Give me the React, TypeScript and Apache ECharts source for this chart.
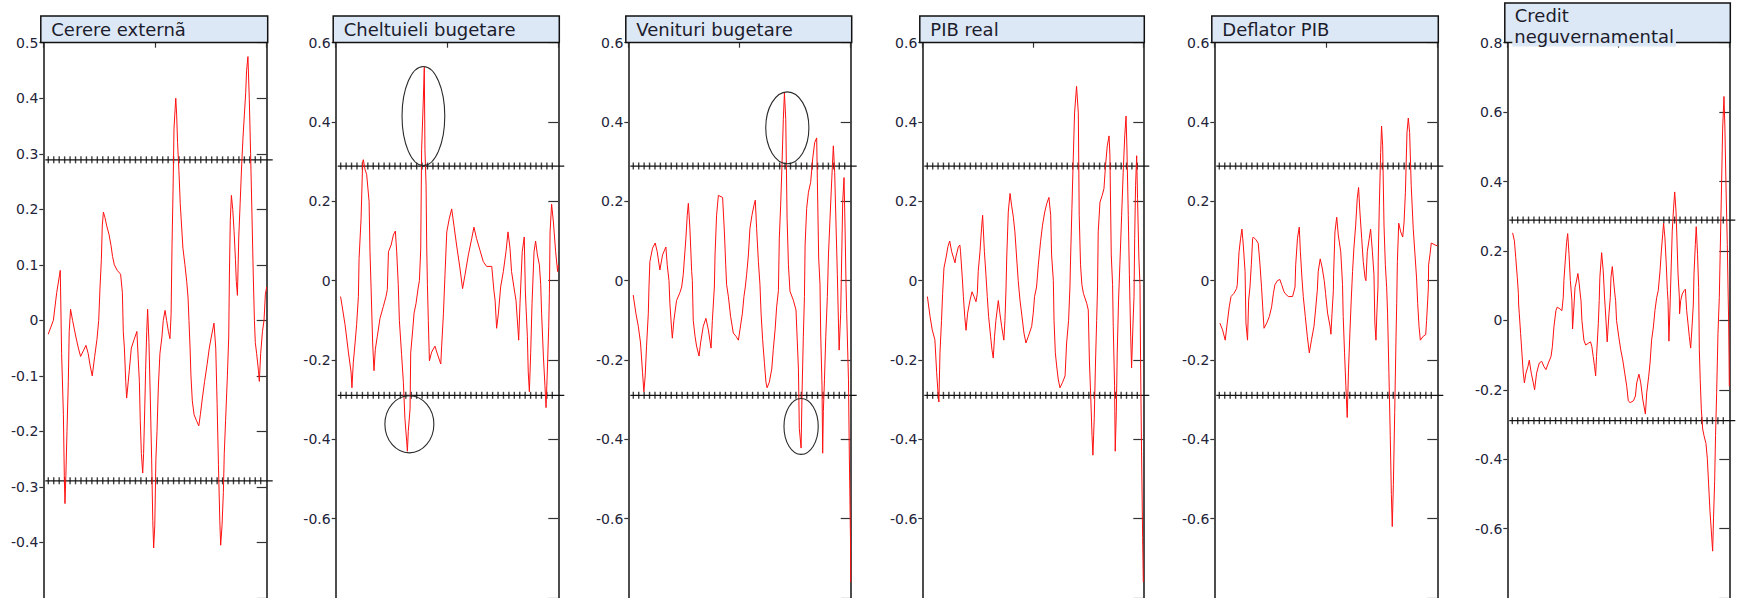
import React, { useEffect, useRef } from 'react';
import * as echarts from 'echarts';

// ---------- data (x = position along the sample, 0..100; y = value) ----------
const cerereExterna: [number, number][] = [
  [2.2,-0.025],[4.5,0],[6.0,0.05],[7.2,0.08],[7.6,0.09],[8.2,-0.06],[9.0,-0.17],[9.4,-0.28],[9.7,-0.33],[10.1,-0.28],
  [10.6,-0.2],[11.2,-0.11],[11.6,-0.02],[12.2,0.02],[13.1,0],[14.6,-0.03],[15.7,-0.05],[16.7,-0.065],[17.9,-0.055],[19.1,-0.045],
  [20.1,-0.06],[20.9,-0.08],[21.9,-0.1],[23.0,-0.065],[24.0,-0.035],[24.8,0],[25.4,0.06],[26.0,0.11],[26.4,0.17],[26.9,0.195],
  [27.6,0.185],[28.4,0.17],[29.4,0.155],[30.3,0.135],[31.0,0.115],[31.8,0.1],[33.1,0.09],[34.6,0.083],[35.4,0.05],[35.8,-0.02],
  [36.3,-0.05],[36.9,-0.11],[37.3,-0.14],[37.8,-0.12],[38.5,-0.09],[39.4,-0.05],[40.6,-0.035],[41.9,-0.02],[42.5,-0.07],[43.0,-0.11],
  [43.4,-0.18],[43.9,-0.24],[44.5,-0.275],[44.9,-0.24],[45.4,-0.16],[45.8,-0.09],[46.3,-0.02],[46.7,0.02],[47.3,-0.04],[47.9,-0.14],
  [48.5,-0.25],[49.0,-0.36],[49.4,-0.41],[49.9,-0.37],[50.4,-0.25],[50.9,-0.2],[51.5,-0.12],[52.2,-0.06],[53.1,-0.03],[53.7,0],
  [54.5,0.018],[55.2,0],[56.0,-0.02],[56.7,-0.033],[57.2,0.01],[57.6,0.13],[58.1,0.24],[58.5,0.345],[59.0,0.38],[59.3,0.4],
  [59.7,0.37],[60.1,0.32],[60.7,0.27],[61.3,0.21],[61.9,0.17],[62.5,0.13],[63.4,0.1],[64.2,0.07],[64.8,0.04],[65.2,0],
  [65.7,-0.05],[66.1,-0.1],[66.7,-0.145],[67.5,-0.17],[68.5,-0.18],[69.6,-0.19],[70.3,-0.17],[71.2,-0.14],[72.2,-0.11],[73.3,-0.08],
  [74.3,-0.05],[75.2,-0.03],[76.4,-0.005],[77.2,-0.05],[77.8,-0.15],[78.4,-0.26],[79.0,-0.36],[79.4,-0.405],[80.0,-0.37],[80.6,-0.31],
  [81.0,-0.24],[81.6,-0.18],[82.4,-0.1],[83.0,-0.03],[83.3,0.08],[83.7,0.18],[84.2,0.225],[84.8,0.2],[85.4,0.16],[86.0,0.11],
  [86.4,0.07],[86.9,0.045],[87.5,0.15],[88.1,0.21],[88.8,0.28],[89.4,0.33],[90.0,0.37],[90.6,0.41],[91.0,0.45],[91.6,0.475],
  [92.2,0.4],[92.8,0.3],[93.4,0.19],[94.0,0.08],[94.5,0],[94.9,-0.04],[95.5,-0.06],[96.3,-0.09],[96.7,-0.11],[97.3,-0.06],
  [98.1,-0.02],[98.8,0],[99.4,0.047],[100,0.06],
];

const cheltuieliBugetare: [number, number][] = [
  [2.2,-0.04],[4.2,-0.111],[5.7,-0.18],[6.9,-0.23],[7.3,-0.27],[7.9,-0.207],[8.7,-0.157],[9.4,-0.111],[10.2,-0.04],[10.5,0.056],
  [11.4,0.156],[12.1,0.297],[12.4,0.305],[13.2,0.28],[13.9,0.268],[15.0,0.2],[15.4,0.073],[15.9,-0.018],[16.6,-0.157],[17.2,-0.227],
  [17.8,-0.173],[18.7,-0.14],[19.9,-0.095],[21.4,-0.065],[22.6,-0.04],[23.2,-0.022],[23.7,0.073],[24.9,0.09],[25.9,0.115],[26.8,0.125],
  [27.4,0.073],[28.1,-0.01],[28.6,-0.1],[29.6,-0.186],[30.4,-0.256],[31.1,-0.348],[31.9,-0.406],[32.2,-0.43],[32.6,-0.38],[33.4,-0.323],
  [33.7,-0.182],[34.6,-0.124],[35.2,-0.082],[36.1,-0.057],[37.1,-0.016],[37.6,0],[38.2,0.08],[38.6,0.33],[39.4,0.463],[39.8,0.538],
  [40.1,0.33],[40.6,0.24],[40.9,0.08],[41.2,-0.01],[41.6,-0.1],[42.1,-0.202],[43.1,-0.18],[44.6,-0.165],[45.4,-0.18],[47.2,-0.21],
  [47.6,-0.165],[48.4,-0.082],[49.1,0.015],[49.9,0.123],[51.0,0.156],[52.1,0.181],[53.1,0.14],[54.3,0.09],[55.8,0.032],[57.0,-0.02],
  [58.1,0.015],[59.6,0.065],[61.1,0.106],[62.1,0.135],[63.3,0.106],[64.8,0.077],[66.3,0.048],[67.8,0.036],[70.1,0.036],[71.1,-0.026],
  [71.6,-0.049],[72.3,-0.12],[73.1,-0.082],[74.1,-0.016],[75.3,0.023],[76.5,0.073],[77.4,0.123],[78.3,0.082],[79.0,0.023],[80.1,-0.018],
  [81.0,-0.05],[81.9,-0.124],[82.2,-0.15],[82.8,-0.057],[83.8,0.073],[84.7,0.11],[85.2,-0.026],[85.5,-0.066],[86.1,-0.14],[86.5,-0.23],
  [87.0,-0.28],[87.6,-0.182],[88.2,-0.057],[89.1,0.073],[89.8,0.1],[90.6,0.065],[91.5,0.04],[92.1,-0.01],[92.5,-0.082],[93.3,-0.19],
  [94.0,-0.265],[94.5,-0.32],[95.1,-0.223],[95.7,-0.115],[96.0,-0.032],[96.3,0.123],[97.0,0.193],[97.8,0.148],[98.8,0.073],[99.7,0.023],
  [100,0.04],
];

const venituriBugetare: [number, number][] = [
  [2.2,-0.036],[3.4,-0.082],[4.5,-0.115],[5.5,-0.157],[6.4,-0.232],[7.0,-0.28],[7.6,-0.24],[8.2,-0.165],[9.0,-0.082],[9.3,-0.016],
  [9.7,0.048],[10.9,0.082],[12.1,0.095],[13.0,0.073],[14.2,0.027],[15.4,0.065],[16.9,0.085],[17.5,0.04],[18.3,0],[18.7,-0.057],
  [19.5,-0.124],[19.8,-0.145],[20.5,-0.1],[21.7,-0.05],[23.2,-0.03],[24.0,-0.016],[24.7,0.015],[25.9,0.107],[26.5,0.165],[27.0,0.195],
  [27.7,0.132],[28.5,0.023],[28.8,0],[29.2,-0.1],[30.0,-0.14],[30.7,-0.165],[31.8,-0.19],[32.5,-0.157],[33.7,-0.115],[34.9,-0.095],
  [36.0,-0.124],[37.2,-0.17],[37.8,-0.1],[38.7,-0.016],[39.0,0.065],[39.7,0.165],[40.5,0.215],[42.4,0.21],[43.2,0.123],[43.8,0.04],
  [44.2,-0.01],[45.0,-0.04],[46.0,-0.09],[47.2,-0.132],[48.4,-0.14],[49.5,-0.15],[50.2,-0.124],[51.3,-0.082],[52.0,-0.04],[52.6,-0.016],
  [53.2,0.015],[54.0,0.065],[54.7,0.132],[55.6,0.165],[56.5,0.19],[57.1,0.203],[57.7,0.132],[58.5,0.048],[59.2,-0.01],[59.7,-0.082],
  [60.4,-0.149],[61.2,-0.207],[61.9,-0.256],[62.4,-0.27],[63.4,-0.256],[64.5,-0.223],[65.2,-0.173],[66.0,-0.124],[66.7,-0.066],[67.5,-0.025],
  [67.9,0.107],[68.5,0.19],[69.1,0.29],[69.7,0.407],[70.2,0.473],[70.8,0.407],[71.4,0.157],[72.0,0.04],[72.7,-0.027],[74.2,-0.049],
  [75.4,-0.074],[76.5,-0.223],[76.9,-0.373],[77.7,-0.422],[78.1,-0.29],[78.7,-0.14],[79.2,-0.04],[79.5,0.09],[80.2,0.182],[81.0,0.223],
  [82.0,0.248],[82.9,0.307],[83.8,0.348],[84.7,0.36],[85.0,0.257],[85.6,0.057],[86.2,-0.01],[86.5,-0.132],[87.1,-0.265],[87.4,-0.435],
  [87.7,-0.33],[88.2,-0.25],[88.8,-0.14],[89.5,-0.04],[90.0,0.065],[90.7,0.157],[91.5,0.257],[92.2,0.34],[92.8,0.273],[93.4,0.14],
  [94.0,0.015],[94.5,-0.107],[94.8,-0.175],[95.5,-0.082],[96.4,0.198],[97.0,0.26],[97.5,0.123],[97.9,-0.01],[98.2,-0.082],[99.0,-0.25],
  [99.4,-0.447],[99.9,-0.65],[100,-0.76],
];

const pibReal: [number, number][] = [
  [2.3,-0.04],[3.5,-0.09],[4.5,-0.124],[5.7,-0.149],[6.5,-0.232],[7.1,-0.281],[7.5,-0.306],[8.0,-0.182],[8.7,-0.1],[9.2,-0.032],
  [9.8,0.032],[10.7,0.057],[11.6,0.086],[12.4,0.1],[13.3,0.073],[14.8,0.045],[15.2,0.06],[16.3,0.085],[17.0,0.09],[17.3,0.073],
  [18.1,0.007],[18.6,-0.04],[19.2,-0.09],[19.8,-0.125],[20.5,-0.082],[21.6,-0.049],[22.5,-0.028],[23.4,-0.04],[24.3,-0.053],[24.9,-0.032],
  [25.3,0.023],[26.1,0.073],[26.8,0.132],[27.3,0.165],[28.1,0.073],[28.8,0.015],[29.4,-0.04],[30.0,-0.09],[30.9,-0.14],[31.5,-0.173],
  [32.1,-0.195],[32.7,-0.14],[33.3,-0.1],[34.4,-0.05],[35.1,-0.082],[35.9,-0.115],[36.9,-0.15],[37.4,-0.1],[37.9,-0.016],[38.2,0.057],
  [38.9,0.173],[39.7,0.22],[40.4,0.19],[41.2,0.16],[41.9,0.123],[42.7,0.057],[43.4,0],[44.2,-0.049],[45.1,-0.09],[46.0,-0.132],
  [46.9,-0.157],[48.0,-0.14],[49.5,-0.115],[50.2,-0.082],[50.8,-0.04],[51.7,-0.016],[52.5,0.04],[53.5,0.098],[54.4,0.14],[55.4,0.173],
  [56.3,0.194],[57.3,0.21],[58.1,0.165],[58.5,0.065],[59.3,0],[59.6,-0.1],[60.2,-0.182],[60.8,-0.215],[61.5,-0.248],[62.3,-0.27],
  [63.5,-0.256],[64.6,-0.24],[65.3,-0.157],[66.2,-0.1],[66.8,-0.016],[67.1,0.057],[67.7,0.182],[68.3,0.307],[68.9,0.423],[69.8,0.49],
  [70.6,0.423],[71.0,0.165],[71.6,0.04],[72.2,-0.01],[72.9,-0.032],[74.4,-0.057],[75.1,-0.074],[75.6,-0.2],[76.2,-0.29],[76.8,-0.39],
  [77.2,-0.44],[77.8,-0.348],[78.4,-0.2],[78.9,-0.1],[79.3,-0.016],[79.6,0.123],[80.4,0.198],[81.4,0.215],[82.2,0.232],[82.9,0.29],
  [83.7,0.34],[84.5,0.365],[84.9,0.315],[85.5,0.065],[86.1,-0.01],[86.4,-0.115],[87.0,-0.265],[87.3,-0.43],[87.8,-0.33],[88.2,-0.182],
  [88.8,-0.049],[89.4,0.04],[90.2,0.165],[90.9,0.273],[91.6,0.365],[92.2,0.415],[92.6,0.332],[93.2,0.165],[93.7,0.015],[94.3,-0.14],
  [94.7,-0.22],[95.3,-0.115],[95.8,-0.04],[96.1,0.107],[96.5,0.24],[97.0,0.315],[97.4,0.207],[98.0,0.057],[98.5,-0.01],[98.8,-0.223],
  [99.2,-0.43],[99.7,-0.647],[100,-0.76],
];

const deflatorPib: [number, number][] = [
  [2.5,-0.107],[3.7,-0.124],[4.9,-0.15],[5.8,-0.107],[6.7,-0.066],[7.5,-0.04],[8.8,-0.032],[10.0,-0.02],[10.3,-0.01],[11.1,0.073],
  [11.8,0.107],[12.4,0.13],[13.0,0.09],[13.8,0.023],[14.2,-0.107],[14.9,-0.15],[15.4,-0.049],[16.0,-0.016],[16.6,0.04],[17.2,0.107],
  [17.5,0.11],[18.7,0.103],[19.7,0.094],[20.5,0.04],[21.2,-0.018],[21.7,-0.066],[22.3,-0.12],[23.5,-0.107],[24.7,-0.09],[25.7,-0.066],
  [26.5,-0.032],[27.2,-0.01],[28.3,0],[29.4,0.003],[30.2,-0.01],[31.2,-0.027],[31.7,-0.032],[33.2,-0.04],[35.1,-0.04],[36.2,-0.016],
  [36.5,0.04],[37.3,0.107],[38.1,0.135],[38.6,0.073],[39.3,0.007],[39.9,-0.04],[40.8,-0.09],[41.7,-0.14],[42.6,-0.182],[43.6,-0.149],
  [44.7,-0.115],[45.4,-0.074],[46.2,-0.024],[46.6,0.023],[47.5,0.055],[48.4,0.032],[49.3,0],[49.9,-0.032],[50.8,-0.082],[51.9,-0.115],
  [52.3,-0.135],[52.8,-0.082],[53.4,-0.024],[53.5,0.015],[54.1,0.123],[54.9,0.16],[55.6,0.115],[56.7,0.073],[57.5,-0.01],[57.8,-0.09],
  [58.4,-0.182],[59.0,-0.265],[59.6,-0.345],[60.2,-0.223],[60.8,-0.132],[61.4,-0.049],[62.0,0.023],[62.6,0.082],[63.4,0.14],[64.1,0.207],
  [64.7,0.235],[65.3,0.173],[66.1,0.107],[66.8,0.048],[67.6,0.007],[68.0,0],[68.6,0.073],[69.5,0.107],[70.1,0.13],[70.9,0.073],
  [71.6,0.015],[72.0,-0.107],[72.5,-0.15],[72.9,-0.082],[73.4,-0.016],[73.5,0.048],[74.0,0.19],[74.6,0.323],[75.0,0.39],[75.5,0.34],
  [76.1,0.14],[76.7,0.04],[77.3,-0.018],[77.7,-0.082],[78.3,-0.232],[78.9,-0.39],[79.4,-0.539],[79.8,-0.62],[80.3,-0.514],[80.9,-0.332],
  [81.5,-0.14],[81.8,-0.057],[82.1,0.048],[82.7,0.145],[83.6,0.123],[84.5,0.11],[85.1,0.148],[85.7,0.223],[86.4,0.373],[87.0,0.41],
  [87.6,0.373],[88.3,0.24],[89.2,0.132],[90.0,0.065],[90.7,0.007],[91.2,-0.057],[91.8,-0.115],[92.4,-0.15],[93.7,-0.14],[94.8,-0.136],
  [95.2,-0.1],[95.7,-0.049],[96.0,-0.016],[96.1,0.04],[96.7,0.065],[97.3,0.095],[99.0,0.09],[100,0.088],
];

const creditNeguvernamental: [number, number][] = [
  [2.4,0.252],[3.2,0.229],[3.8,0.181],[4.5,0.124],[5.0,0.077],[5.1,0.047],[5.4,0.019],[6.0,-0.038],[6.6,-0.095],[7.2,-0.152],
  [7.7,-0.18],[8.4,-0.152],[9.3,-0.133],[9.9,-0.115],[10.8,-0.152],[11.7,-0.18],[12.3,-0.2],[13.2,-0.152],[14.4,-0.123],[15.5,-0.118],
  [16.5,-0.133],[17.4,-0.142],[18.5,-0.123],[19.7,-0.104],[20.3,-0.076],[21.0,-0.019],[21.9,0.028],[22.5,0.038],[23.7,0.033],[24.6,0.028],
  [25.2,0.066],[25.5,0.115],[26.0,0.162],[26.7,0.224],[27.2,0.25],[27.8,0.19],[28.4,0.115],[29.0,0.067],[29.1,0.057],[29.4,-0.025],
  [30.0,0.038],[30.5,0.095],[30.9,0.105],[31.8,0.135],[32.4,0.105],[33.0,0.067],[33.2,0.057],[33.6,0],[34.5,-0.057],[35.3,-0.071],
  [36.5,-0.066],[37.5,-0.062],[38.1,-0.076],[38.7,-0.104],[39.3,-0.133],[39.8,-0.16],[40.2,-0.104],[41.0,-0.009],[41.4,0.057],[41.7,0.124],
  [42.5,0.195],[43.2,0.143],[43.8,0.067],[44.1,0.038],[44.7,-0.028],[45.0,-0.062],[45.8,0.019],[46.4,0.066],[46.7,0.124],[47.3,0.155],
  [48.0,0.105],[48.6,0.067],[48.8,0.057],[49.2,0],[50.2,-0.047],[51.1,-0.085],[52.0,-0.114],[52.9,-0.152],[53.8,-0.19],[54.5,-0.232],
  [55.3,-0.237],[56.8,-0.232],[57.7,-0.218],[58.3,-0.18],[59.3,-0.155],[60.1,-0.18],[61.0,-0.227],[62.2,-0.27],[62.8,-0.209],[63.7,-0.161],
  [64.3,-0.123],[65.0,-0.057],[65.8,-0.019],[66.5,0.028],[67.3,0.066],[68.0,0.086],[68.8,0.143],[69.4,0.2],[70.0,0.248],[70.4,0.28],
  [71.0,0.238],[71.6,0.162],[72.1,0.086],[72.4,0.057],[72.8,-0.06],[73.3,0.038],[73.6,0.105],[74.3,0.257],[74.9,0.323],[75.4,0.37],
  [76.0,0.314],[76.4,0.238],[76.9,0.134],[77.5,0.067],[77.6,0.019],[78.1,0.057],[78.8,0.076],[79.7,0.086],[80.2,0.09],[80.8,0.028],
  [81.4,-0.009],[82.0,-0.047],[82.6,-0.08],[83.2,-0.019],[83.8,0.047],[84.1,0.134],[84.7,0.219],[85.1,0.27],[85.7,0.19],[86.2,0.095],
  [86.5,-0.085],[86.9,-0.171],[87.4,-0.256],[88.0,-0.313],[88.6,-0.332],[89.5,-0.355],[90.1,-0.398],[90.7,-0.474],[91.3,-0.55],[91.9,-0.607],
  [92.5,-0.665],[92.9,-0.569],[93.4,-0.464],[93.8,-0.332],[94.3,-0.209],[94.9,-0.038],[95.5,0.066],[95.8,0.162],[96.4,0.352],[97.0,0.551],
  [97.6,0.645],[98.0,0.56],[98.5,0.39],[99.1,0.219],[99.5,0.067],[99.7,0],[99.9,-0.109],[100,-0.19],
];

const panelSeries = [cerereExterna, cheltuieliBugetare, venituriBugetare, pibReal, deflatorPib, creditNeguvernamental];
const panelTitles: string[][] = [
  ['Cerere externã'], ['Cheltuieli bugetare'], ['Venituri bugetare'], ['PIB real'], ['Deflator PIB'], ['Credit', 'neguvernamental'],
];
const yMaxes = [0.5, 0.6, 0.6, 0.6, 0.6, 0.8];
const yMins = [-0.5, -0.8, -0.8, -0.8, -0.8, -0.8];
const ySteps = [0.1, 0.2, 0.2, 0.2, 0.2, 0.2];

// confidence band (±) drawn as a hatched line
const bandLevel = 0.289;
const hatchCount = 40;

// ellipse annotations: panel, centre x, top value, bottom value, half width (x units)
const ellipseNotes = [
  { panel: 1, t: 39.4, top: 0.54, bottom: 0.29, half: 9.6 },
  { panel: 1, t: 33.1, top: -0.29, bottom: -0.434, half: 11.0 },
  { panel: 2, t: 71.5, top: 0.476, bottom: 0.295, half: 9.7 },
  { panel: 2, t: 77.7, top: -0.297, bottom: -0.438, half: 7.7 },
];

// ---------- layout ----------
const plotLefts = [43.3, 335.7, 628.3, 922.3, 1214.3, 1507.3];
const plotRights = [266.7, 558.3, 850.7, 1143.3, 1437.3, 1729.3];
const PLOT_TOP = 42.7;
const PLOT_H = 562;

const BOX_FILL = '#dde8f6';
const TICK_FONT = 'DejaVu Sans';

function fmt(v: number) {
  const r = Math.round(v * 10) / 10;
  return r === 0 ? '0' : String(r);
}

function buildOption() {
  const grid: any[] = [];
  const xAxis: any[] = [];
  const yAxis: any[] = [];
  const series: any[] = [];
  const graphic: any[] = [];

  for (let p = 0; p < 6; p++) {
    const L = plotLefts[p];
    const R = plotRights[p];
    const Wd = R - L;
    const ymin = yMins[p], ymax = yMaxes[p], step = ySteps[p];

    grid.push({ left: L, top: PLOT_TOP, width: Wd, height: PLOT_H, containLabel: false });
    grid.push({ left: L + 2, top: PLOT_TOP, width: Wd + 4, height: PLOT_H, containLabel: false });
    grid.push({ left: L + 5, top: PLOT_TOP, width: Wd - 11, height: PLOT_H, containLabel: false });

    const g0 = p * 3;
    xAxis.push({
      gridIndex: g0, type: 'value', position: 'top', min: 0, max: 100, interval: 50,
      axisLine: { show: false, onZero: false }, axisLabel: { show: false }, splitLine: { show: false },
      axisTick: { show: true, inside: true, length: 5, lineStyle: { color: '#333', width: 1.2 } },
    });
    xAxis.push({ gridIndex: g0 + 1, type: 'value', min: 0, max: 1, show: false, axisLine: { onZero: false } });
    xAxis.push({ gridIndex: g0 + 2, type: 'value', min: 0, max: hatchCount - 1, show: false, axisLine: { onZero: false } });

    yAxis.push({
      gridIndex: g0, type: 'value', position: 'left', min: ymin, max: ymax, interval: step,
      axisLine: { show: true, onZero: false, lineStyle: { color: '#3a3a3a', width: 1.8 } },
      axisTick: { show: true, inside: false, length: 4, lineStyle: { color: '#333', width: 1.2 } },
      axisLabel: {
        show: true, margin: 5, formatter: fmt, showMinLabel: false,
        fontFamily: TICK_FONT, fontSize: 14, color: '#23233a',
      },
      splitLine: { show: false },
    });
    yAxis.push({
      gridIndex: g0, type: 'value', position: 'right', min: ymin, max: ymax, interval: step,
      axisLine: { show: true, onZero: false, lineStyle: { color: '#3a3a3a', width: 1.8 } },
      axisTick: { show: true, inside: true, length: 10, lineStyle: { color: '#333', width: 1.2 } },
      axisLabel: { show: false }, splitLine: { show: false },
    });
    yAxis.push({ gridIndex: g0 + 1, type: 'value', min: ymin, max: ymax, show: false });
    yAxis.push({ gridIndex: g0 + 2, type: 'value', min: ymin, max: ymax, show: false });

    const xMain = p * 3, xBand = p * 3 + 1, xHatch = p * 3 + 2;
    const yMain = p * 4, yBand = p * 4 + 2, yHatch = p * 4 + 3;

    [bandLevel, -bandLevel].forEach((b) => {
      series.push({
        type: 'line', xAxisIndex: xBand, yAxisIndex: yBand, data: [[0, b], [1, b]],
        symbol: 'none', lineStyle: { color: '#111', width: 1.3 }, silent: true, z: 2, clip: false,
      });
      const hatch: [number, number][] = [];
      for (let i = 0; i < hatchCount; i++) hatch.push([i, b]);
      series.push({
        type: 'scatter', xAxisIndex: xHatch, yAxisIndex: yHatch, data: hatch,
        symbol: 'rect', symbolSize: [1.4, 7], itemStyle: { color: '#111' }, silent: true, z: 2,
      });
    });

    series.push({
      type: 'line', xAxisIndex: xMain, yAxisIndex: yMain, data: panelSeries[p],
      symbol: 'none', showSymbol: false, lineStyle: { color: '#ff1010', width: 1 }, z: 3,
    });

    const notes = ellipseNotes.filter((e) => e.panel === p).map((e) => [e.t, e.top, e.bottom, e.half]);
    if (notes.length) {
      series.push({
        type: 'custom', xAxisIndex: xMain, yAxisIndex: yMain, data: notes, z: 4, silent: true,
        encode: { x: 0, y: 1 },
        renderItem: (_params: any, api: any) => {
          const t = api.value(0), top = api.value(1), bottom = api.value(2), half = api.value(3);
          const a = api.coord([t - half, top]);
          const b = api.coord([t + half, bottom]);
          return {
            type: 'ellipse',
            shape: { cx: (a[0] + b[0]) / 2, cy: (a[1] + b[1]) / 2, rx: Math.abs(b[0] - a[0]) / 2, ry: Math.abs(b[1] - a[1]) / 2 },
            style: { fill: 'none', stroke: '#2a2a2a', lineWidth: 1.1 },
          };
        },
      });
    }

    const lines = panelTitles[p];
    const boxTop = lines.length > 1 ? 3 : 16;
    const boxBottom = 42.5;
    graphic.push({
      type: 'rect', z: 10, silent: true,
      shape: { x: L - 2.5, y: boxTop, width: Wd + 3.5, height: boxBottom - boxTop },
      style: { fill: BOX_FILL, stroke: '#111', lineWidth: 1.5 },
    });
    if (lines.length === 1) {
      graphic.push({
        type: 'text', z: 11, silent: true, x: L + 8, y: (boxTop + boxBottom) / 2 + 0.5,
        style: { text: lines[0], fontFamily: 'DejaVu Sans', fontSize: 18, fill: '#1c1c2c', verticalAlign: 'middle', align: 'left' },
      });
    } else {
      graphic.push({
        type: 'text', z: 11, silent: true, x: L + 7.5, y: 15,
        style: { text: lines[0], fontFamily: 'DejaVu Sans', fontSize: 18, fill: '#1c1c2c', verticalAlign: 'middle', align: 'left' },
      });
      graphic.push({
        type: 'text', z: 11, silent: true, x: L + 5, y: 36,
        style: {
          text: lines[1], fontFamily: 'DejaVu Sans', fontSize: 18, fill: '#1c1c2c', verticalAlign: 'middle', align: 'left',
          backgroundColor: BOX_FILL, padding: [1, 2, 2, 2],
        },
      });
    }
  }

  return {
    animation: false,
    backgroundColor: '#ffffff',
    grid, xAxis, yAxis, series, graphic,
  };
}

export default function App() {
  const ref = useRef<HTMLDivElement>(null);
  useEffect(() => {
    if (!ref.current) return;
    const chart = echarts.init(ref.current, undefined, { renderer: 'svg' });
    chart.setOption(buildOption() as any);
    return () => chart.dispose();
  }, []);
  return (
    <div
      ref={ref}
      style={{ position: 'absolute', left: 0, top: 0, width: 1739, height: 598, background: '#fff' }}
    />
  );
}
